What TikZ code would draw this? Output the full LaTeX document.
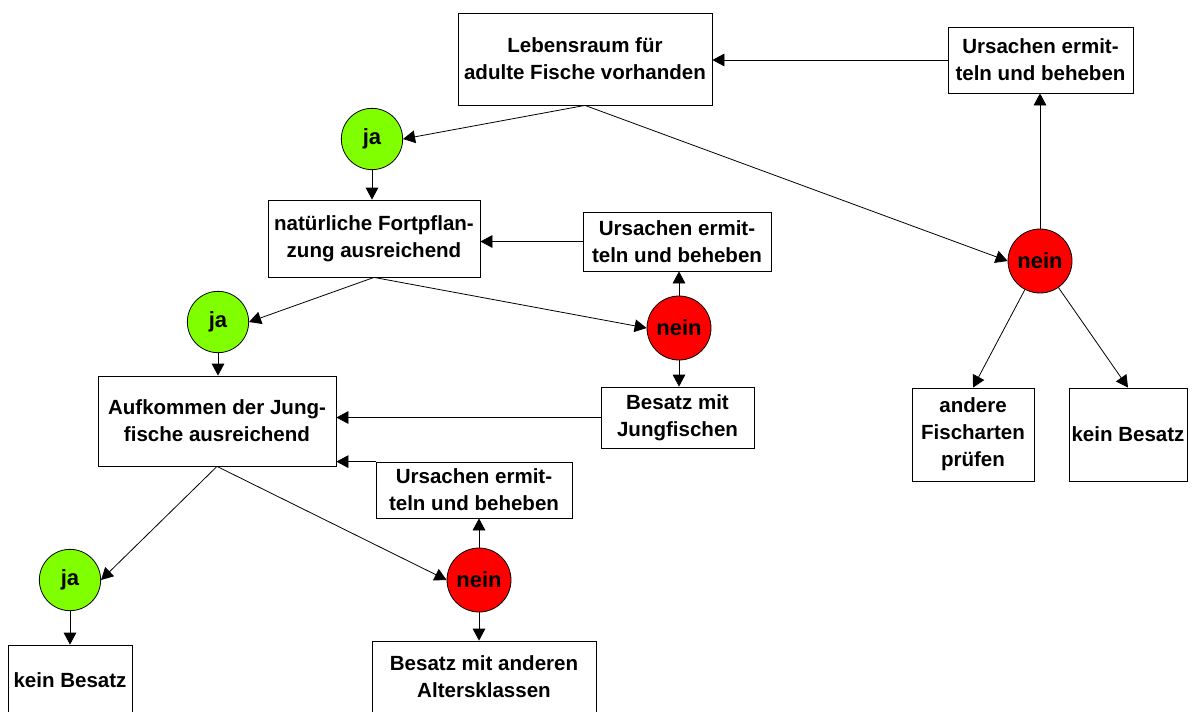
\documentclass[tikz,border=0pt]{standalone}
\usepackage{fontspec}
\setmainfont{Liberation Sans}
\usetikzlibrary{arrows.meta}
\definecolor{jagruen}{HTML}{80FF00}
\definecolor{neinrot}{HTML}{FF0000}
\begin{document}
\begin{tikzpicture}[x=0.75pt,y=-0.75pt,
	every node/.style={font=\fontsize{15.4}{20.2}\selectfont\bfseries,align=center,inner sep=0pt},
	kasten/.style={draw,line width=0.6pt,fill=white},
	ja/.style={circle,draw,line width=0.6pt,fill=jagruen,minimum size=46pt,font=\fontsize{16.5}{20}\selectfont\bfseries},
	nein/.style={circle,draw,line width=0.6pt,fill=neinrot,minimum size=48pt,font=\fontsize{16.5}{20}\selectfont\bfseries},
	pfeil/.style={-{Triangle[length=9pt,width=9.5pt]},line width=0.6pt}]
	\useasboundingbox (0,0) rectangle (1194,711);
	\node[kasten,minimum width=190.5pt,minimum height=69pt] (lebens) at (585,59) {Lebensraum für\\adulte Fische vorhanden};
	\node[kasten,minimum width=138.75pt,minimum height=49.5pt] (ursA) at (1040.5,60) {Ursachen ermit-\\teln und beheben};
	\node[nein] (neinA) at (1040,261) {nein};
	\node[kasten,minimum width=91.5pt,minimum height=69.75pt] (andere) at (973,434.5) {andere\\Fischarten\\prüfen};
	\node[kasten,minimum width=88.5pt,minimum height=69.75pt] (keinR) at (1128,434.5) {kein Besatz};
	\node[ja] (jaA) at (372,139) {ja};
	\node[kasten,minimum width=159pt,minimum height=57.75pt] (fort) at (374,238.5) {natürliche Fortpflan-\\zung ausreichend};
	\node[kasten,minimum width=141pt,minimum height=44.25pt] (ursB) at (677,241.5) {Ursachen ermit-\\teln und beheben};
	\node[nein] (neinB) at (679,328) {nein};
	\node[kasten,minimum width=114.75pt,minimum height=45.75pt] (jung) at (677.5,417.5) {Besatz mit\\Jungfischen};
	\node[ja] (jaB) at (218,322) {ja};
	\node[kasten,minimum width=178.5pt,minimum height=67.5pt] (aufk) at (217,421) {Aufkommen der Jung-\\fische ausreichend};
	\node[kasten,minimum width=147pt,minimum height=42pt] (ursC) at (474,490) {Ursachen ermit-\\teln und beheben};
	\node[nein] (neinC) at (479,580) {nein};
	\node[kasten,minimum width=168pt,minimum height=54pt] (alter) at (484,677) {Besatz mit anderen\\Altersklassen};
	\node[ja] (jaC) at (70,580) {ja};
	\node[kasten,minimum width=93pt,minimum height=52.5pt] (keinL) at (70,680) {kein Besatz};
	\draw[pfeil] (ursA.west) -- (ursA.west -| lebens.east);
	\draw[pfeil] (lebens.south) -- (jaA.east);
	\draw[pfeil] (lebens.south) -- (neinA.west);
	\draw[pfeil] (neinA.north) -- (neinA.north |- ursA.south);
	\draw[pfeil] (neinA) -- (andere.north);
	\draw[pfeil] (neinA) -- (keinR.north);
	\draw[pfeil] (jaA.south) -- (jaA.south |- fort.north);
	\draw[pfeil] (ursB.west) -- (ursB.west -| fort.east);
	\draw[pfeil] (fort.south) -- (jaB.east);
	\draw[pfeil] (fort.south) -- (neinB.west);
	\draw[pfeil] (neinB.north) -- (neinB.north |- ursB.south);
	\draw[pfeil] (neinB.south) -- (neinB.south |- jung.north);
	\draw[pfeil] (jaB.south) -- (jaB.south |- aufk.north);
	\draw[pfeil] (jung.west) -- (jung.west -| aufk.east);
	\draw[pfeil] (ursC.north west) -- (ursC.north west -| aufk.east);
	\draw[pfeil] (aufk.south) -- (jaC.east);
	\draw[pfeil] (aufk.south) -- (neinC.west);
	\draw[pfeil] (neinC.north) -- (neinC.north |- ursC.south);
	\draw[pfeil] (neinC.south) -- (neinC.south |- alter.north);
	\draw[pfeil] (jaC.south) -- (keinL.north);
\end{tikzpicture}
\end{document}
